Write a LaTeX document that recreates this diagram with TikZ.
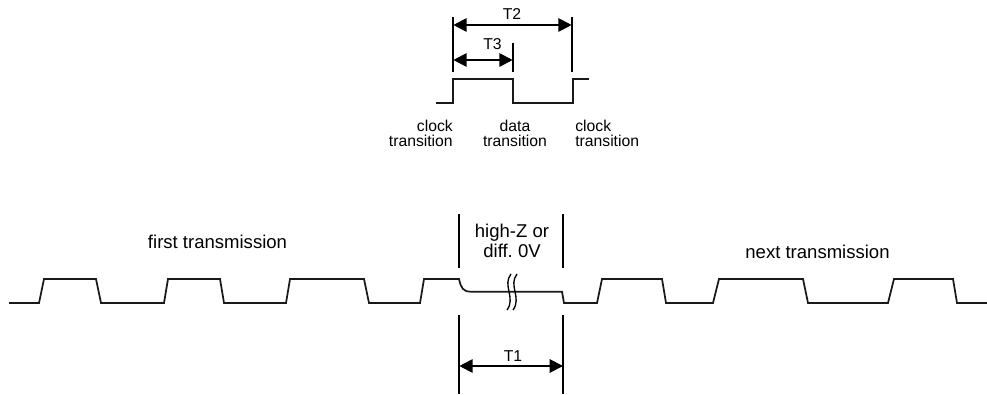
\documentclass[tikz,border=0pt]{standalone}
\usepackage{fontspec}
\setmainfont{Liberation Sans}
\usepackage{tikz}
\usepackage{xcolor}
\usetikzlibrary{arrows.meta}
\frenchspacing

\begin{document}
\begin{tikzpicture}[x=0.75pt,y=-0.75pt,
  wave/.style={line width=1.3pt,black!90,line join=miter},
  dimline/.style={line width=1.5pt},
  dimarrow/.style={line width=1.5pt,{Triangle[length=10pt,width=10pt]}-{Triangle[length=10pt,width=10pt]}},
  small/.style={inner sep=0pt,font=\fontsize{11.8}{11.4}\selectfont},
  big/.style={inner sep=0pt,font=\fontsize{13.9}{15}\selectfont}]
\useasboundingbox (0,0) rectangle (987,395);

\draw [wave] (436,103) -- (453.3,103) -- (453.3,79) -- (513.3,79) -- (513.3,103) -- (573.3,103) -- (573.3,79) -- (589.3,79);

\coordinate (t2l) at (453.3,25);
\coordinate (t2r) at (571.7,25);
\coordinate (t3r) at (512.7,60);
\coordinate (t3l) at (453.3,60);
\draw [dimline] (453.3,17) -- (453.3,72);
\draw [dimline] (571.7,17) -- (571.7,72);
\draw [dimline] (512.7,43) -- (512.7,72);
\draw [dimarrow] (t2l) -- (t2r);
\draw [dimarrow] (t3l) -- (t3r);
\node [small] (lblT2) at (512,14) {T2};
\node [small] (lblT3) at (492.5,44) {T3};

\node [small,align=right,anchor=east] (clkA) at (453,133.5) {clock\\transition};
\node [small,align=center] (dat) at (515,133.5) {data\\transition};
\node [small,align=left,anchor=west] (clkB) at (575,133.5) {clock\\transition};

\draw [wave] (9,303) -- (39,303) -- (44,279) -- (96,279) -- (101,303) -- (164,303) -- (168,279) -- (220,279) -- (224,303) -- (286,303) -- (290,279) -- (364,279) -- (369,303) -- (420,303) -- (424,279) -- (459,279)
  .. controls (461,288) and (463,291.7) .. (471,291.7) -- (562,291.7) -- (564,303) -- (597,303) -- (602,279) -- (662,279) -- (666,303) -- (713,303) -- (719,279) -- (803,279) -- (808,303) -- (888,303) -- (894,279) -- (953,279) -- (957,303) -- (987,303);

\draw [line width=1pt] (511,274) .. controls (502,285) and (516,298) .. (507,310);
\draw [line width=1pt] (517,274) .. controls (508,285) and (522,298) .. (513,310);

\coordinate (t1l) at (459.3,366);
\coordinate (t1r) at (563,366);
\draw [dimline] (459.3,214) -- (459.3,268);
\draw [dimline] (563,214) -- (563,268);
\draw [dimline] (459.3,315) -- (459.3,394);
\draw [dimline] (563,315) -- (563,394);
\draw [dimarrow] (t1l) -- (t1r);
\node [small] (lblT1) at (513,356) {T1};

\node [big] (first) at (217.5,242) {first transmission};
\node [big,align=center] (hiz) at (512,241) {high-Z or\\diff. 0V};
\node [big] (next) at (817.5,252) {next transmission};
\end{tikzpicture}
\end{document}
